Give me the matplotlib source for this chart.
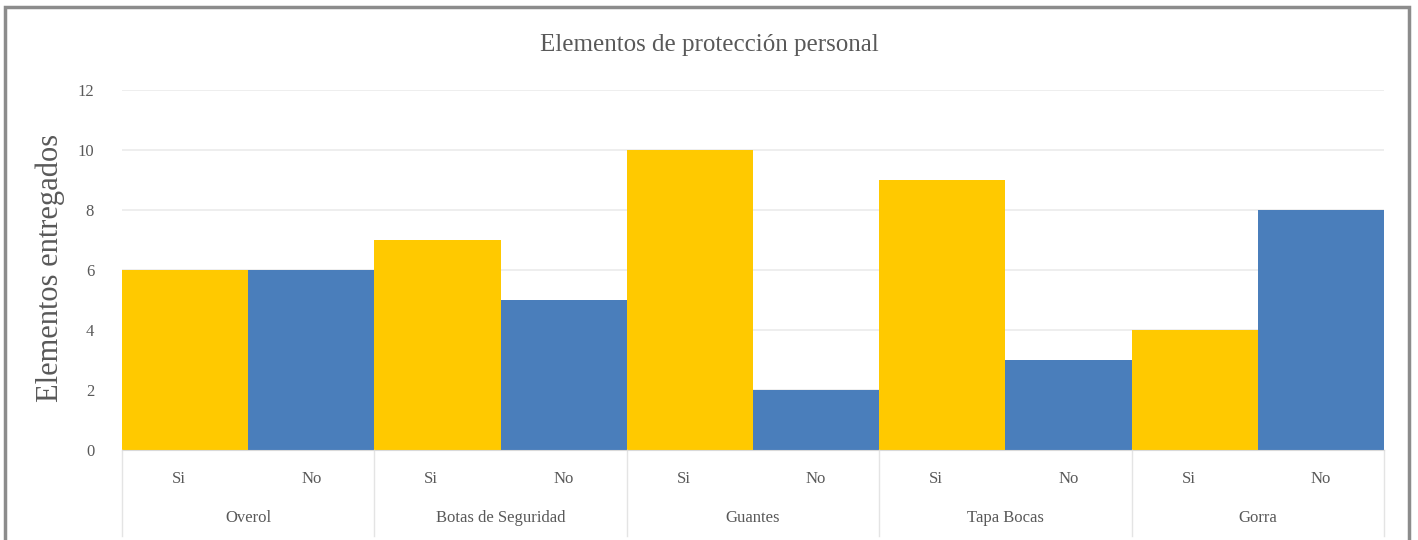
import matplotlib.pyplot as plt
from matplotlib.patches import Rectangle

plt.rcParams['font.family'] = ['Liberation Serif', 'DejaVu Serif']

grupos = ['Overol', 'Botas de Seguridad', 'Guantes', 'Tapa Bocas', 'Gorra']
respuestas = ['Si', 'No']
valores_si = [6, 7, 10, 9, 4]
valores_no = [6, 5, 2, 3, 8]
yticks = [0, 2, 4, 6, 8, 10, 12]

amarillo = '#FFC900'
azul = '#4A7EBB'
gris_txt = '#595959'
gris_lin = '#D9D9D9'

fig = plt.figure(figsize=(14.18, 5.4), dpi=100)
ax = fig.add_axes([122 / 1418, 90 / 540, (1384 - 122) / 1418, 360 / 540])

x_si = [2 * i for i in range(len(grupos))]
x_no = [2 * i + 1 for i in range(len(grupos))]
ax.bar(x_si, valores_si, width=1.0, color=amarillo, zorder=2)
ax.bar(x_no, valores_no, width=1.0, color=azul, zorder=2)

ax.set_xlim(-0.5, 2 * len(grupos) - 0.5)
ax.set_ylim(0, 12)
ax.set_yticks(yticks)
ax.set_yticklabels([str(v) for v in yticks], color=gris_txt, fontsize=12)
ax.tick_params(axis='y', length=0, pad=20)
ax.set_xticks([])
ax.grid(axis='y', color='#EBEBEB', linewidth=1.2, zorder=0)
for s in ['top', 'right', 'left']:
    ax.spines[s].set_visible(False)
ax.spines['bottom'].set_color(gris_lin)

# two-level category labels under the axis
tr = ax.get_xaxis_transform()
desplaz = [-0.05, 0.0]
for i, g in enumerate(grupos):
    for j, r in enumerate(respuestas):
        ax.text(2 * i + j + desplaz[j], -0.08, r, transform=tr, ha='center',
                va='center', fontsize=12, color=gris_txt)
    ax.text(2 * i + 0.5, -0.19, g, transform=tr, ha='center', va='center',
            fontsize=12, color=gris_txt)
for k in range(len(grupos) + 1):
    ax.plot([2 * k - 0.5, 2 * k - 0.5], [0, -0.24], transform=tr,
            color='#E4E4E4', linewidth=1, clip_on=False)

fig.text(0.5, 1 - 45 / 540, 'Elementos de protección personal', ha='center',
         va='center', fontsize=18, color=gris_txt)
fig.text(50 / 1418, 1 - 268 / 540, 'Elementos entregados', rotation=90,
         ha='center', va='center', fontsize=22, color=gris_txt)

fig.patches.append(Rectangle((5 / 1418, -0.05), 1404 / 1418, 1.05 - 7 / 540,
                             transform=fig.transFigure, fill=False,
                             edgecolor='#8C8C8C', linewidth=2.5))

fig.savefig('out.png', dpi=100, facecolor='white')
